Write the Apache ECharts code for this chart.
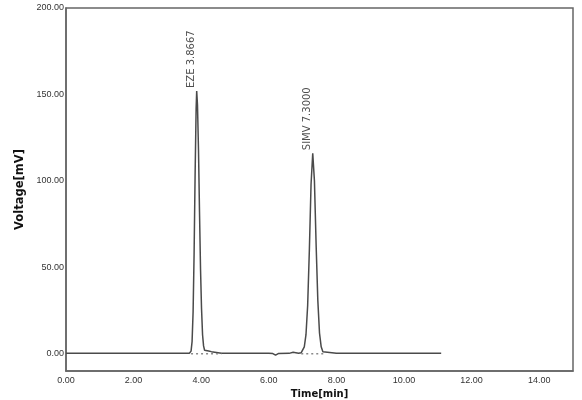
<!DOCTYPE html>
<html>
<head>
<meta charset="utf-8">
<script src="https://cdn.jsdelivr.net/npm/echarts@6/dist/echarts.min.js"></script>
<style>html,body{margin:0;padding:0;background:#fff}#c{width:582px;height:400px}</style>
</head>
<body>
<div id="c"></div>
<script>
// Chromatogram trace (time in min, signal in mV)
var times = [0, 0.5, 1.0, 1.5, 2.0, 2.5, 3.0, 3.5, 3.65, 3.70, 3.73, 3.76, 3.79, 3.82, 3.85, 3.8667, 3.89, 3.92, 3.95, 3.98, 4.01, 4.04, 4.07, 4.10, 4.15, 4.22, 4.30, 4.40, 4.50, 4.60, 5.0, 5.5, 6.0, 6.12, 6.2, 6.28, 6.6, 6.72, 6.8, 6.88, 6.96, 7.0, 7.05, 7.10, 7.15, 7.20, 7.25, 7.30, 7.35, 7.40, 7.45, 7.50, 7.55, 7.60, 7.65, 8.0, 8.5, 9.0, 9.05, 9.1, 9.5, 10.0, 10.5, 11.1];
var volts = [0.3, 0.3, 0.3, 0.3, 0.3, 0.3, 0.3, 0.3, 0.3, 1.5, 7, 24, 58, 104, 142, 152, 144, 118, 82, 49, 26, 11, 4.5, 2.0, 1.3, 1.6, 1.2, 0.9, 0.6, 0.3, 0.2, 0.2, 0.2, 0.1, -0.8, 0.1, 0.2, 0.8, 0.6, 0.3, 0.6, 1.5, 4, 11, 28, 60, 98, 116, 100, 63, 31, 12, 4, 1.2, 0.4, 0.3, 0.3, 0.3, 0.7, 0.3, 0.3, 0.3, 0.3, 0.3];

// Peak annotations
var peakNames = ['EZE 3.8667', 'SIMV 7.3000'];
var peakTimes = [3.8667, 7.3];
var peakHeights = [152, 116];

// Integration baselines (start/end times) under each peak
var intStart = [3.70, 6.96];
var intEnd = [4.60, 7.65];

var trace = times.map(function (t, i) { return [t, volts[i]]; });
var peaks = peakNames.map(function (n, i) { return { name: n, value: [peakTimes[i], peakHeights[i]] }; });

var series = [];
intStart.forEach(function (s, i) {
  series.push({
    type: 'line', data: [[s, 0], [intEnd[i], 0]], symbol: 'none', silent: true, z: 5,
    lineStyle: { color: '#8a8a8a', width: 1.5, type: [2, 3] }
  });
});
series.push({
  type: 'line', data: trace, symbol: 'none', z: 3,
  lineStyle: { color: '#4a4a4a', width: 1.5 }
});
series.push({
  type: 'scatter', data: peaks, symbolSize: 0, z: 6,
  label: {
    show: true, formatter: '{b}', position: 'top', distance: 3, rotate: 90,
    align: 'left', verticalAlign: 'bottom',
    fontFamily: 'DejaVu Sans', fontSize: 10, color: '#222'
  }
});

var chart = echarts.init(document.getElementById('c'), null, { renderer: 'canvas' });
chart.setOption({
  backgroundColor: '#fff',
  animation: false,
  grid: { left: 66, right: 9, top: 8, bottom: 29, show: true, borderColor: '#666', borderWidth: 1.5, containLabel: false, outerBoundsMode: 'none' },
  xAxis: {
    type: 'value', min: 0, max: 15, interval: 1,
    name: 'Time[min]', nameLocation: 'middle', nameGap: 16,
    nameTextStyle: { fontFamily: 'DejaVu Sans', fontWeight: 'bold', fontSize: 10, color: '#111' },
    axisLine: { show: true, onZero: false, lineStyle: { color: '#666', width: 1.5 } },
    axisTick: { show: false },
    splitLine: { show: false },
    axisLabel: {
      margin: 5, fontFamily: 'Liberation Sans', fontSize: 9, color: '#333',
      formatter: function (v) { return (Math.round(v) % 2 === 0 && v < 15) ? v.toFixed(2) : ''; }
    }
  },
  yAxis: {
    type: 'value', min: -10, max: 200, interval: 10,
    name: 'Voltage[mV]', nameLocation: 'middle', nameGap: 39, nameRotate: 90,
    nameTextStyle: { fontFamily: 'DejaVu Sans', fontWeight: 'bold', fontSize: 11.5, color: '#111' },
    axisLine: { show: true, onZero: false, lineStyle: { color: '#666', width: 1.5 } },
    axisTick: { show: false },
    splitLine: { show: false },
    axisLabel: {
      margin: 2, fontFamily: 'Liberation Sans', fontSize: 9, color: '#333',
      formatter: function (v) { return (v >= 0 && v % 50 === 0) ? v.toFixed(2) : ''; }
    }
  },
  series: series
});
</script>
</body>
</html>
